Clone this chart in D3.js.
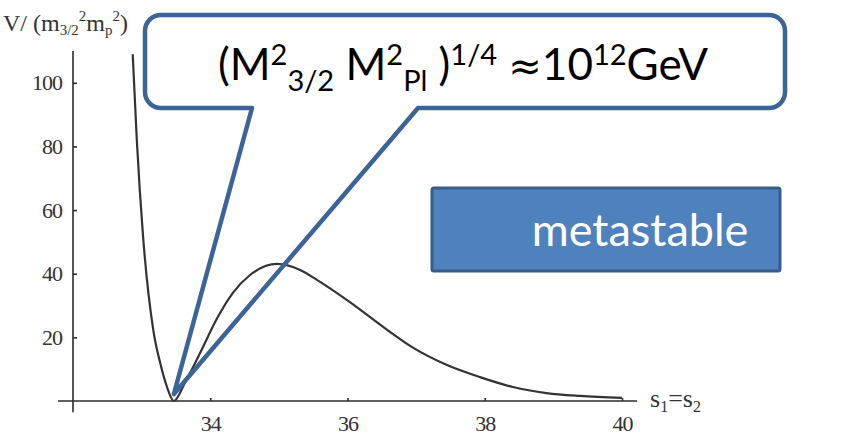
<!DOCTYPE html>
<html>
<head>
<meta charset="utf-8">
<script src="https://cdn.jsdelivr.net/npm/d3@7"></script>
<style>
  body { margin: 0; background: #fff; }
  svg { display: block; }
</style>
</head>
<body>
<script>
var w = 854;
var h = 439;

// curve: s1=s2 against V/(m3/2^2 mp^2)
var sValues = [32.87, 32.93, 33.02, 33.17, 33.27, 33.37, 33.47, 33.63, 33.85, 34.10,
               34.33, 34.58, 34.97, 35.31, 35.56, 36.04, 36.50, 36.96, 37.45, 37.93,
               38.41, 38.90, 39.39, 40.00];
var vValues = [109, 82, 52, 22.3, 12, 4.4, 0, 5.7, 15, 26,
               34, 39.6, 43.1, 41.2, 38, 31, 23.6, 16.7, 11.3, 7.5,
               4.4, 2.5, 1.6, 1.0];

var xMajor = [34, 36, 38, 40];
var xMinor = d3.range(32.5, 40.01, 0.5);
var yMajor = [20, 40, 60, 80, 100];
var yMinor = d3.range(5, 110, 5);

var boxText = "metastable";

var svg = d3.select("body")
	.append("svg")
	.attr("width", w)
	.attr("height", h);

var x = d3.scaleLinear().domain([32, 40]).range([73, 622]);
var y = d3.scaleLinear().domain([0, 110]).range([401, 51]);

var axisColor = "#2b2b2b";
var serif = "Liberation Serif, serif";

// y axis
var yAx = svg.append("g").attr("transform", "translate(" + x(32) + ",0)");
yAx.call(d3.axisLeft(y).tickValues(yMinor).tickSizeInner(-2.5).tickSizeOuter(0).tickFormat(""));
yAx.call(d3.axisLeft(y).tickValues(yMajor).tickSizeInner(-4).tickSizeOuter(0).tickPadding(11));
yAx.selectAll(".domain").remove();
yAx.selectAll("line").attr("stroke", axisColor).attr("stroke-width", 1.6);
yAx.selectAll("text")
	.attr("font-family", serif)
	.attr("font-size", "22px")
	.attr("letter-spacing", "-1px")
	.attr("fill", "#333");
yAx.append("line")
	.attr("x1", 0).attr("x2", 0)
	.attr("y1", y(-3.5)).attr("y2", y(110))
	.attr("stroke", axisColor).attr("stroke-width", 1.6);

// x axis
var xAx = svg.append("g").attr("transform", "translate(0," + y(0) + ")");
xAx.call(d3.axisBottom(x).tickValues(xMinor).tickSizeInner(-3).tickSizeOuter(0).tickFormat(""));
xAx.call(d3.axisBottom(x).tickValues(xMajor).tickSizeInner(-3).tickSizeOuter(0).tickPadding(14));
xAx.selectAll(".domain").remove();
xAx.selectAll("line").attr("stroke", axisColor).attr("stroke-width", 1.6);
xAx.selectAll("text")
	.attr("font-family", serif)
	.attr("font-size", "22px")
	.attr("letter-spacing", "-1px")
	.attr("fill", "#333");
xAx.append("line")
	.attr("x1", x(31.78)).attr("x2", x(40.22))
	.attr("y1", 0).attr("y2", 0)
	.attr("stroke", axisColor).attr("stroke-width", 1.6);

// axis labels
var yl = svg.append("text")
	.attr("x", 3).attr("y", 31)
	.attr("font-family", serif)
	.attr("font-size", "24px")
	.attr("fill", "#333");
yl.append("tspan").text("V/ (m");
yl.append("tspan").attr("font-size", "15px").attr("dy", 4).text("3/2");
yl.append("tspan").attr("font-size", "15px").attr("dy", -14).text("2");
yl.append("tspan").attr("dy", 10).text("m");
yl.append("tspan").attr("font-size", "15px").attr("dy", 4).text("p");
yl.append("tspan").attr("font-size", "15px").attr("dy", -14).text("2");
yl.append("tspan").attr("dy", 10).text(")");

var xl = svg.append("text")
	.attr("x", 650).attr("y", 407)
	.attr("font-family", serif)
	.attr("font-size", "26px")
	.attr("fill", "#333");
xl.append("tspan").text("s");
xl.append("tspan").attr("font-size", "16px").attr("dy", 5).text("1");
xl.append("tspan").attr("dy", -5).text("=s");
xl.append("tspan").attr("font-size", "16px").attr("dy", 5).text("2");

// curve
var pts = sValues.map(function(d, i) { return [d, vValues[i]]; });
var line = d3.line()
	.x(function(d) { return x(d[0]); })
	.y(function(d) { return y(d[1]); })
	.curve(d3.curveMonotoneX);

svg.append("path")
	.datum(pts)
	.attr("d", line)
	.attr("fill", "none")
	.attr("stroke", "#333")
	.attr("stroke-width", 2.2);

// callout
var bx0 = 145, by0 = 15, bx1 = 785, by1 = 108, r = 16;
var tipX = x(33.47), tipY = y(0) - 7;
var tailL = 252, tailR = 418;
var cp = d3.path();
cp.moveTo(bx0 + r, by0);
cp.lineTo(bx1 - r, by0);
cp.arcTo(bx1, by0, bx1, by0 + r, r);
cp.lineTo(bx1, by1 - r);
cp.arcTo(bx1, by1, bx1 - r, by1, r);
cp.lineTo(tailR, by1);
cp.lineTo(tipX, tipY);
cp.lineTo(tailL, by1);
cp.lineTo(bx0 + r, by1);
cp.arcTo(bx0, by1, bx0, by1 - r, r);
cp.lineTo(bx0, by0 + r);
cp.arcTo(bx0, by0, bx0 + r, by0, r);
cp.closePath();

svg.append("path")
	.attr("d", cp.toString())
	.attr("fill", "none")
	.attr("stroke", "#3c6496")
	.attr("stroke-width", 4.5)
	.attr("stroke-linejoin", "round");

var sans = "Lato, 'Open Sans', sans-serif";
var ct = svg.append("text")
	.attr("x", 218).attr("y", 80)
	.attr("font-family", sans)
	.attr("font-size", "44px")
	.attr("fill", "#000");
ct.append("tspan").text("(M");
ct.append("tspan").attr("font-size", "29px").attr("dy", -15).text("2");
ct.append("tspan").attr("font-size", "29px").attr("dy", 26).text("3/2");
ct.append("tspan").attr("dy", -11).text(" M");
ct.append("tspan").attr("font-size", "29px").attr("dy", -15).text("2");
ct.append("tspan").attr("font-size", "29px").attr("dy", 26).text("Pl");
ct.append("tspan").attr("dy", -11).text("\u00a0)");
ct.append("tspan").attr("font-size", "29px").attr("dy", -15).text("1/4");
ct.append("tspan").attr("dy", 15).text("\u00a0");
ct.append("tspan").attr("font-family", "DejaVu Sans, sans-serif").attr("font-size", "40px").text("\u2248");
ct.append("tspan").text("10");
ct.append("tspan").attr("font-size", "29px").attr("dy", -15).text("12");
ct.append("tspan").attr("dy", 15).text("GeV");

// metastable box
svg.append("rect")
	.attr("x", 432).attr("y", 188)
	.attr("width", 348).attr("height", 83)
	.attr("rx", 2)
	.attr("fill", "#4f81bd")
	.attr("stroke", "#385d8a")
	.attr("stroke-width", 3);

svg.append("text")
	.attr("x", 640).attr("y", 246)
	.attr("text-anchor", "middle")
	.attr("font-family", sans)
	.attr("font-size", "45px")
	.attr("fill", "#fff")
	.text(boxText);
</script>
</body>
</html>
